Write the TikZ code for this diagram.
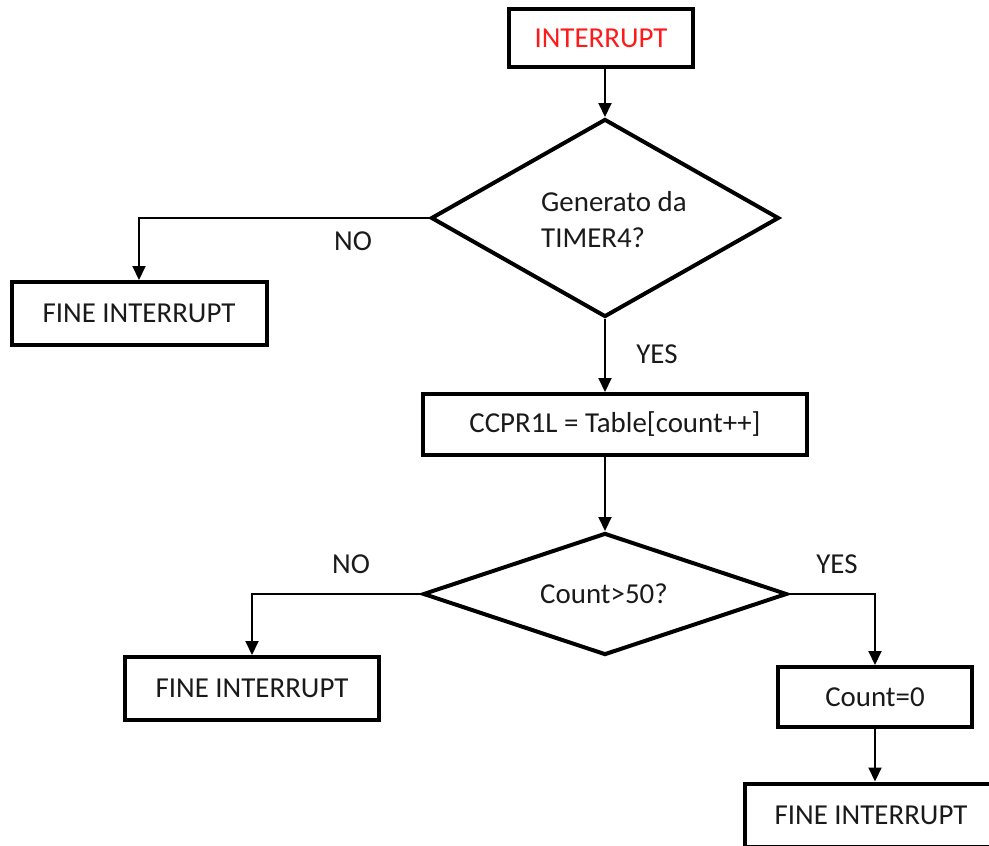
\documentclass[tikz,border=0pt]{standalone}
\usepackage{fontspec}
\setmainfont{Carlito}
\usetikzlibrary{shapes.geometric,arrows.meta}
\definecolor{intred}{HTML}{FF1A1A}
\definecolor{txt}{HTML}{1A1A1A}
\begin{document}
\begin{tikzpicture}[x=1pt,y=1pt,
  every node/.style={font=\fontsize{28.9}{36}\selectfont, text=txt},
  box/.style={draw=black, line width=4pt, rectangle, inner sep=0pt},
  dia/.style={draw=black, line width=4pt, diamond, inner sep=0pt},
  conn/.style={draw=black, line width=2pt, -{Triangle[width=13pt,length=14pt]}},
  lbl/.style={inner sep=0pt, text=txt}
]
\clip (0,0) rectangle (989,-846);
\useasboundingbox (0,0) rectangle (989,-846);

\node[box, minimum width=184, minimum height=58, text=intred] (int) at (601,-38) {INTERRUPT};
\node[dia, minimum width=348, minimum height=198] (d1) at (605,-218) {};
\node[lbl, align=left, anchor=west] (d1t) at (541,-220) {Generato da\\TIMER4?};
\node[box, minimum width=255, minimum height=63] (f1) at (139,-313.5) {FINE INTERRUPT};
\node[box, minimum width=384, minimum height=61] (c1) at (615,-424.5) {CCPR1L = Table[count++]};
\node[dia, minimum width=364, minimum height=122] (d2) at (605,-594) {};
\node[lbl] (d2t) at (604,-594) {Count>50?};
\node[box, minimum width=254, minimum height=63] (f2) at (252,-688.5) {FINE INTERRUPT};
\node[box, minimum width=194, minimum height=60] (cz) at (875,-697) {Count=0};
\node[box, minimum width=253, minimum height=63] (f3) at (871,-815) {FINE INTERRUPT};

\node[lbl] (no1) at (353,-241) {NO};
\node[lbl] (yes1) at (657,-354) {YES};
\node[lbl] (no2) at (351,-564) {NO};
\node[lbl] (yes2) at (837,-564) {YES};

\draw[conn] (d1.north |- int.south) -- (d1.north);
\draw[conn] (d1.west) -| (f1.north);
\draw[conn] (d1.south) -- (d1.south |- c1.north);
\draw[conn] (d2.north |- c1.south) -- (d2.north);
\draw[conn] (d2.west) -| (f2.north);
\draw[conn] (d2.east) -| (cz.north);
\draw[conn] (cz.south) -- (cz.south |- f3.north);
\end{tikzpicture}
\end{document}
